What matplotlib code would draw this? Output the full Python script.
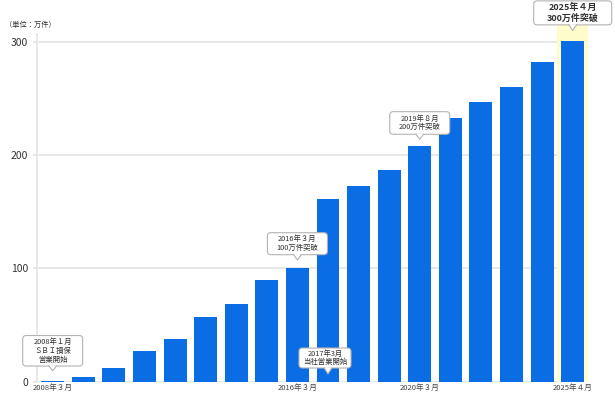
import matplotlib
matplotlib.use("Agg")
import matplotlib.pyplot as plt
from matplotlib.patches import FancyBboxPatch, Polygon, Rectangle
from matplotlib.lines import Line2D
from matplotlib.transforms import IdentityTransform

plt.rcParams['font.family'] = ['Noto Sans CJK JP', 'DejaVu Sans']

# ---------------- data ----------------
categories = ["2008年３月", "2009年３月", "2010年３月", "2011年３月", "2012年３月",
              "2013年３月", "2014年３月", "2015年３月", "2016年３月", "2017年３月",
              "2018年３月", "2019年３月", "2020年３月", "2021年３月", "2022年３月",
              "2023年３月", "2024年３月", "2025年４月"]
values = [0.5, 4, 12.5, 27.5, 38, 57, 69, 90, 100.5, 161, 173, 186.5,
          208, 232.5, 246.5, 260, 282, 301]
shown_labels = ["2008年３月", "2016年３月", "2020年３月", "2025年４月"]
yticks = [0, 100, 200, 300]
unit_label = "（単位：万件）"
highlight_category = "2025年４月"
# callouts above bars: (category, text)
top_callouts = [
    ("2008年３月", "2008年１月\nＳＢＩ損保\n営業開始"),
    ("2016年３月", "2016年３月\n100万件突破"),
    ("2020年３月", "2019年８月\n200万件突破"),
    ("2025年４月", "2025年４月\n300万件突破"),
]
# callout anchored at the base of a bar
base_callout = ("2017年３月", "2017年3月\n当社営業開始")

# ---------------- style ----------------
W, H = 615, 393
DPI = 100
bar_color = "#0b6de4"
grid_color = "#e6e6e6"
text_color = "#333333"
hl_color = "#fffccc"

fig = plt.figure(figsize=(W / DPI, H / DPI), dpi=DPI)
ax_left, ax_right = 37.4, 588.0
ax_top, ax_bottom = 34.0, 381.7
ax = fig.add_axes([ax_left / W, (H - ax_bottom) / H,
                   (ax_right - ax_left) / W, (ax_bottom - ax_top) / H])

x = list(range(len(categories)))
ax.bar(x, values, width=0.75, color=bar_color, zorder=3)

ax.set_xlim(-0.5, len(categories) - 0.5)
ax.set_ylim(0, 306.8)

# highlight column behind the last bar
hi = categories.index(highlight_category)
ax.add_patch(Rectangle((hi - 0.5, 0), 1.0, 315, facecolor=hl_color,
                       edgecolor="none", zorder=1.5, clip_on=False))

ax.set_yticks(yticks)
ax.set_yticklabels([str(v) for v in yticks])
ax.yaxis.grid(True, color=grid_color, linewidth=1.3, zorder=1)
ax.set_axisbelow(True)
ax.tick_params(axis="y", length=3.2, width=1.3, color=grid_color, pad=3.5,
               labelsize=7.5, labelcolor=text_color)

tick_pos = [categories.index(c) for c in shown_labels]
ax.set_xticks(tick_pos)
ax.set_xticklabels(shown_labels)
ax.tick_params(axis="x", length=0, pad=1.5, labelsize=5.5, labelcolor="#444444")

for s in ["top", "right", "bottom"]:
    ax.spines[s].set_visible(False)
ax.spines["left"].set_color(grid_color)
ax.spines["left"].set_linewidth(1.3)

fig.text(5 / W, 1 - 25 / H, unit_label, fontsize=5.2, color=text_color,
         ha="left", va="center")


def callout(xd, yd, text, gap, ptr_h, box_w, box_h, fontsize, bold=False, dx=0.0):
    px, py = ax.transData.transform((xd, yd))
    tip_y = py + gap
    by = tip_y + ptr_h
    cx = px + dx
    tr = IdentityTransform()
    box = FancyBboxPatch((cx - box_w / 2, by), box_w, box_h,
                         boxstyle="round,pad=0,rounding_size=3.5",
                         facecolor="white", edgecolor="#b3b3b3", linewidth=0.8,
                         transform=tr, zorder=6, clip_on=False)
    fig.add_artist(box)
    hw = 3.8
    tri = Polygon([(px - hw, by + 0.6), (px, tip_y), (px + hw, by + 0.6)],
                  closed=True, facecolor="white", edgecolor="none",
                  transform=tr, zorder=7, clip_on=False)
    fig.add_artist(tri)
    fig.add_artist(Line2D([px - hw, px, px + hw], [by, tip_y, by],
                          color="#b3b3b3", linewidth=0.8, transform=tr,
                          zorder=8, clip_on=False))
    fig.text((cx) / W, (by + box_h / 2) / H, text, fontsize=fontsize,
             color="#333333", ha="center", va="center", linespacing=1.15,
             fontweight="bold" if bold else "normal", zorder=9)


fig.canvas.draw()

specs = {
    "2008年３月": dict(gap=10.4, ptr_h=4.7, box_w=60, box_h=30.5, fontsize=5.3),
    "2016年３月": dict(gap=7.8, ptr_h=5.3, box_w=60, box_h=22, fontsize=5.3),
    "2020年３月": dict(gap=6.7, ptr_h=5.0, box_w=60, box_h=22.6, fontsize=5.3),
    "2025年４月": dict(gap=10.0, ptr_h=5.7, box_w=78, box_h=24, fontsize=6.5, bold=True),
}
for cat, txt in top_callouts:
    i = categories.index(cat)
    callout(i, values[i], txt, **specs[cat])

bi = categories.index(base_callout[0])
callout(bi, 0, base_callout[1], gap=7.7, ptr_h=6.0, box_w=52, box_h=20,
        fontsize=5.3, dx=-3)

fig.savefig("out.png", dpi=DPI)
